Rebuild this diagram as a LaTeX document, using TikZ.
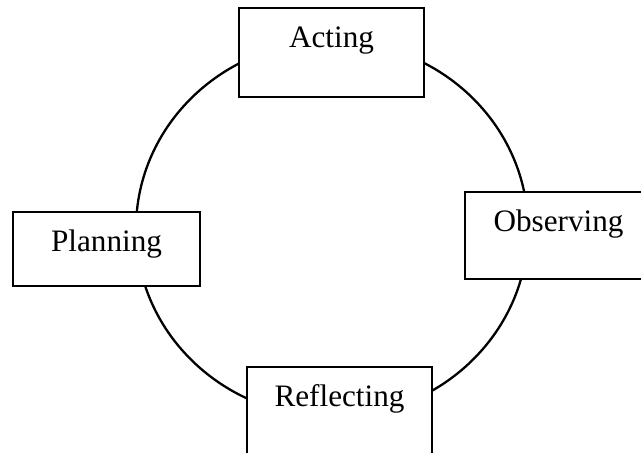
\documentclass[tikz,border=0pt]{standalone}
\usepackage{fontspec}
\setmainfont{Liberation Serif}
\usepackage{tikz}

\tikzset{
  stagebox/.style={draw, fill=white, line width=1.3pt, inner sep=0pt},
  stagetext/.style={anchor=base, inner sep=0pt, font=\fontsize{15.6pt}{18pt}\selectfont}
}

\begin{document}
\begin{tikzpicture}[x=0.5pt, y=-0.5pt]
\def\u{0.5pt}
\newcommand{\cyclebox}[6]{
  \node[stagebox, minimum width=#4*\u, minimum height=#5*\u] (#1) at (#2,#3) {};
  \path (#1.north) ++(0,41) node[stagetext] (#1-text) {#6};
}

\useasboundingbox (0,0) rectangle (641,452);
\clip (0,0) rectangle (641,452);

% the cycle behind the boxes
\draw[line width=1.15pt] (332,229) ellipse [x radius=196, y radius=188];

% the four stages
  \cyclebox{acting}{331.5}{52.5}{185}{89}{Acting}
  \cyclebox{observing}{558.5}{235.5}{187}{87}{Observing}
  \cyclebox{reflecting}{339.5}{411.5}{185}{89}{Reflecting}
  \cyclebox{planning}{106.5}{249}{187}{74}{Planning}
\end{tikzpicture}
\end{document}
